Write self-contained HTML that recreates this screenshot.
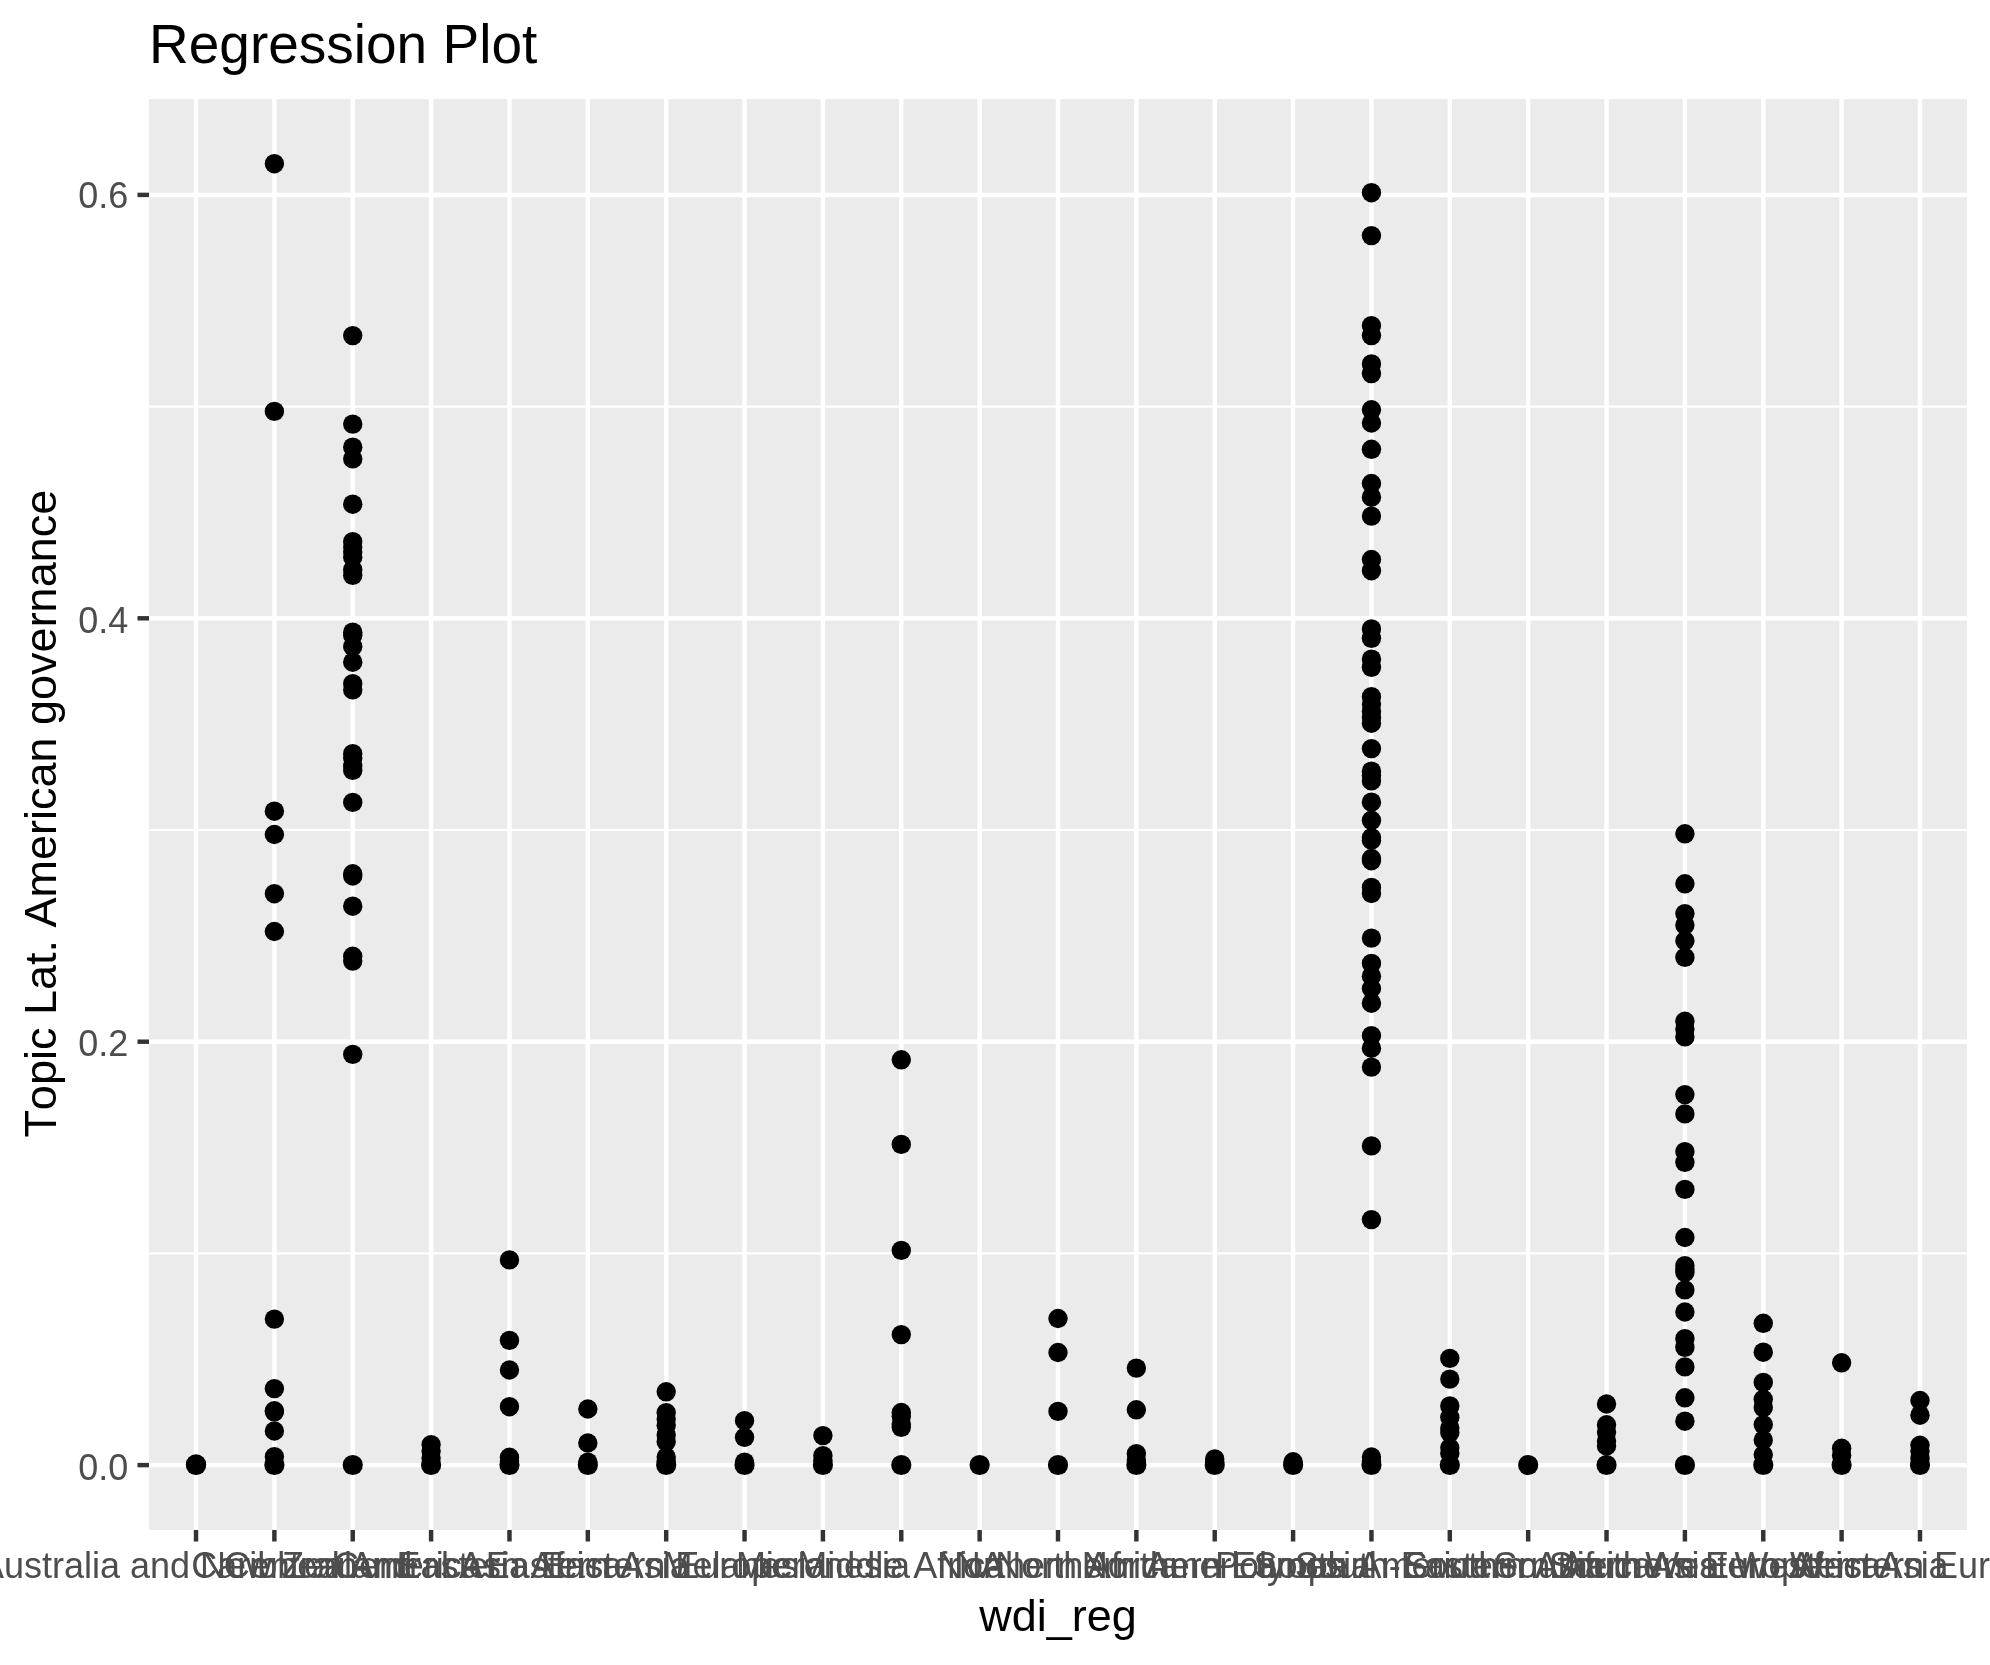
<!DOCTYPE html>
<html><head><meta charset="utf-8"><title>Regression Plot</title>
<style>
html,body{margin:0;padding:0;background:#fff;overflow:hidden;}
body{width:1990px;height:1665px;}
svg{display:block;will-change:transform;filter:grayscale(1);}
text{font-family:"Liberation Sans",sans-serif;font-kerning:none;}
.xt{font-size:36px;fill:#4D4D4D;text-anchor:middle;}
.yt{font-size:36px;fill:#4D4D4D;text-anchor:end;}
</style></head>
<body>
<svg width="1990" height="1665" viewBox="0 0 1990 1665">
<rect x="0" y="0" width="1990" height="1665" fill="#FFFFFF"/>
<rect x="149.0" y="99.0" width="1818.0" height="1431.0" fill="#EBEBEB"/>
<g stroke="#FFFFFF" stroke-width="2.22">
<line x1="149.0" x2="1967.0" y1="1253.40" y2="1253.40"/>
<line x1="149.0" x2="1967.0" y1="830.00" y2="830.00"/>
<line x1="149.0" x2="1967.0" y1="406.60" y2="406.60"/>
</g>
<g stroke="#FFFFFF" stroke-width="4.45">
<line x1="149.0" x2="1967.0" y1="1465.10" y2="1465.10"/>
<line x1="149.0" x2="1967.0" y1="1041.70" y2="1041.70"/>
<line x1="149.0" x2="1967.0" y1="618.30" y2="618.30"/>
<line x1="149.0" x2="1967.0" y1="194.90" y2="194.90"/>
<line x1="196.02" x2="196.02" y1="99.0" y2="1530.0"/>
<line x1="274.38" x2="274.38" y1="99.0" y2="1530.0"/>
<line x1="352.74" x2="352.74" y1="99.0" y2="1530.0"/>
<line x1="431.10" x2="431.10" y1="99.0" y2="1530.0"/>
<line x1="509.47" x2="509.47" y1="99.0" y2="1530.0"/>
<line x1="587.83" x2="587.83" y1="99.0" y2="1530.0"/>
<line x1="666.19" x2="666.19" y1="99.0" y2="1530.0"/>
<line x1="744.55" x2="744.55" y1="99.0" y2="1530.0"/>
<line x1="822.91" x2="822.91" y1="99.0" y2="1530.0"/>
<line x1="901.28" x2="901.28" y1="99.0" y2="1530.0"/>
<line x1="979.64" x2="979.64" y1="99.0" y2="1530.0"/>
<line x1="1058.00" x2="1058.00" y1="99.0" y2="1530.0"/>
<line x1="1136.36" x2="1136.36" y1="99.0" y2="1530.0"/>
<line x1="1214.72" x2="1214.72" y1="99.0" y2="1530.0"/>
<line x1="1293.09" x2="1293.09" y1="99.0" y2="1530.0"/>
<line x1="1371.45" x2="1371.45" y1="99.0" y2="1530.0"/>
<line x1="1449.81" x2="1449.81" y1="99.0" y2="1530.0"/>
<line x1="1528.17" x2="1528.17" y1="99.0" y2="1530.0"/>
<line x1="1606.53" x2="1606.53" y1="99.0" y2="1530.0"/>
<line x1="1684.90" x2="1684.90" y1="99.0" y2="1530.0"/>
<line x1="1763.26" x2="1763.26" y1="99.0" y2="1530.0"/>
<line x1="1841.62" x2="1841.62" y1="99.0" y2="1530.0"/>
<line x1="1919.98" x2="1919.98" y1="99.0" y2="1530.0"/>
</g>
<g fill="#000000">
<circle cx="196.02" cy="1465" r="10.1"/><circle cx="196.02" cy="1464.3" r="10.1"/>
<circle cx="274.38" cy="163.7" r="9.7"/><circle cx="274.38" cy="411.4" r="9.7"/><circle cx="274.38" cy="811.2" r="9.7"/><circle cx="274.38" cy="834.5" r="9.7"/><circle cx="274.38" cy="893.7" r="9.7"/><circle cx="274.38" cy="931.5" r="9.7"/><circle cx="274.38" cy="1319.1" r="9.7"/><circle cx="274.38" cy="1388.6" r="9.7"/><circle cx="274.38" cy="1410.8" r="9.7"/><circle cx="274.38" cy="1411.8" r="9.7"/><circle cx="274.38" cy="1431.0" r="9.7"/><circle cx="274.38" cy="1456.7" r="9.7"/><circle cx="274.38" cy="1465" r="10.1"/>
<circle cx="352.74" cy="335.6" r="9.7"/><circle cx="352.74" cy="424.1" r="9.7"/><circle cx="352.74" cy="447.2" r="9.7"/><circle cx="352.74" cy="458.9" r="9.7"/><circle cx="352.74" cy="504.2" r="9.7"/><circle cx="352.74" cy="541.7" r="9.7"/><circle cx="352.74" cy="547.0" r="9.7"/><circle cx="352.74" cy="552.0" r="9.7"/><circle cx="352.74" cy="557.2" r="9.7"/><circle cx="352.74" cy="569.7" r="9.7"/><circle cx="352.74" cy="575.4" r="9.7"/><circle cx="352.74" cy="632.2" r="9.7"/><circle cx="352.74" cy="635.4" r="9.7"/><circle cx="352.74" cy="646.7" r="9.7"/><circle cx="352.74" cy="662.2" r="9.7"/><circle cx="352.74" cy="683.7" r="9.7"/><circle cx="352.74" cy="689.9" r="9.7"/><circle cx="352.74" cy="753.7" r="9.7"/><circle cx="352.74" cy="758.0" r="9.7"/><circle cx="352.74" cy="765.8" r="9.7"/><circle cx="352.74" cy="770.4" r="9.7"/><circle cx="352.74" cy="802.4" r="9.7"/><circle cx="352.74" cy="873.8" r="9.7"/><circle cx="352.74" cy="876.0" r="9.7"/><circle cx="352.74" cy="906.2" r="9.7"/><circle cx="352.74" cy="956.3" r="9.7"/><circle cx="352.74" cy="961.1" r="9.7"/><circle cx="352.74" cy="1054.4" r="9.7"/><circle cx="352.74" cy="1465" r="10.1"/>
<circle cx="431.10" cy="1444.6" r="9.7"/><circle cx="431.10" cy="1451.1" r="9.7"/><circle cx="431.10" cy="1458.0" r="9.7"/><circle cx="431.10" cy="1465" r="10.1"/>
<circle cx="509.47" cy="1259.9" r="9.7"/><circle cx="509.47" cy="1340.4" r="9.7"/><circle cx="509.47" cy="1370.0" r="9.7"/><circle cx="509.47" cy="1406.7" r="9.7"/><circle cx="509.47" cy="1457.3" r="9.7"/><circle cx="509.47" cy="1461.0" r="9.7"/><circle cx="509.47" cy="1465" r="10.1"/>
<circle cx="587.83" cy="1409.0" r="9.7"/><circle cx="587.83" cy="1443.0" r="9.7"/><circle cx="587.83" cy="1462.1" r="9.7"/><circle cx="587.83" cy="1465" r="10.1"/>
<circle cx="666.19" cy="1391.8" r="9.7"/><circle cx="666.19" cy="1412.6" r="9.7"/><circle cx="666.19" cy="1419.0" r="9.7"/><circle cx="666.19" cy="1425.2" r="9.7"/><circle cx="666.19" cy="1434.9" r="9.7"/><circle cx="666.19" cy="1441.8" r="9.7"/><circle cx="666.19" cy="1457.0" r="9.7"/><circle cx="666.19" cy="1461.0" r="9.7"/><circle cx="666.19" cy="1465" r="10.1"/>
<circle cx="744.55" cy="1420.7" r="9.7"/><circle cx="744.55" cy="1437.3" r="9.7"/><circle cx="744.55" cy="1462.1" r="9.7"/><circle cx="744.55" cy="1465" r="10.1"/>
<circle cx="822.91" cy="1435.6" r="9.7"/><circle cx="822.91" cy="1455.7" r="9.7"/><circle cx="822.91" cy="1460.2" r="9.7"/><circle cx="822.91" cy="1465" r="10.1"/>
<circle cx="901.28" cy="1059.8" r="9.7"/><circle cx="901.28" cy="1144.4" r="9.7"/><circle cx="901.28" cy="1250.4" r="9.7"/><circle cx="901.28" cy="1334.6" r="9.7"/><circle cx="901.28" cy="1412.5" r="9.7"/><circle cx="901.28" cy="1416.3" r="9.7"/><circle cx="901.28" cy="1424.0" r="9.7"/><circle cx="901.28" cy="1427.3" r="9.7"/><circle cx="901.28" cy="1465" r="10.1"/>
<circle cx="979.64" cy="1465" r="10.1"/>
<circle cx="1058.00" cy="1318.5" r="9.7"/><circle cx="1058.00" cy="1352.5" r="9.7"/><circle cx="1058.00" cy="1411.4" r="9.7"/><circle cx="1058.00" cy="1465" r="10.1"/>
<circle cx="1136.36" cy="1368.1" r="9.7"/><circle cx="1136.36" cy="1409.8" r="9.7"/><circle cx="1136.36" cy="1453.7" r="9.7"/><circle cx="1136.36" cy="1460.0" r="9.7"/><circle cx="1136.36" cy="1465" r="10.1"/>
<circle cx="1214.72" cy="1458.9" r="9.7"/><circle cx="1214.72" cy="1462.0" r="9.7"/><circle cx="1214.72" cy="1465" r="10.1"/>
<circle cx="1293.09" cy="1461.8" r="9.7"/><circle cx="1293.09" cy="1465" r="10.1"/>
<circle cx="1371.45" cy="192.7" r="9.7"/><circle cx="1371.45" cy="235.6" r="9.7"/><circle cx="1371.45" cy="325.7" r="9.7"/><circle cx="1371.45" cy="335.6" r="9.7"/><circle cx="1371.45" cy="363.9" r="9.7"/><circle cx="1371.45" cy="373.6" r="9.7"/><circle cx="1371.45" cy="409.8" r="9.7"/><circle cx="1371.45" cy="423.0" r="9.7"/><circle cx="1371.45" cy="449.3" r="9.7"/><circle cx="1371.45" cy="483.5" r="9.7"/><circle cx="1371.45" cy="497.2" r="9.7"/><circle cx="1371.45" cy="516.1" r="9.7"/><circle cx="1371.45" cy="559.5" r="9.7"/><circle cx="1371.45" cy="570.7" r="9.7"/><circle cx="1371.45" cy="628.9" r="9.7"/><circle cx="1371.45" cy="638.3" r="9.7"/><circle cx="1371.45" cy="659.2" r="9.7"/><circle cx="1371.45" cy="667.3" r="9.7"/><circle cx="1371.45" cy="696.7" r="9.7"/><circle cx="1371.45" cy="704.0" r="9.7"/><circle cx="1371.45" cy="711.5" r="9.7"/><circle cx="1371.45" cy="717.5" r="9.7"/><circle cx="1371.45" cy="723.2" r="9.7"/><circle cx="1371.45" cy="748.6" r="9.7"/><circle cx="1371.45" cy="771.2" r="9.7"/><circle cx="1371.45" cy="775.5" r="9.7"/><circle cx="1371.45" cy="780.9" r="9.7"/><circle cx="1371.45" cy="802.2" r="9.7"/><circle cx="1371.45" cy="820.3" r="9.7"/><circle cx="1371.45" cy="837.6" r="9.7"/><circle cx="1371.45" cy="840.2" r="9.7"/><circle cx="1371.45" cy="858.5" r="9.7"/><circle cx="1371.45" cy="860.7" r="9.7"/><circle cx="1371.45" cy="887.4" r="9.7"/><circle cx="1371.45" cy="893.5" r="9.7"/><circle cx="1371.45" cy="938.1" r="9.7"/><circle cx="1371.45" cy="963.4" r="9.7"/><circle cx="1371.45" cy="976.2" r="9.7"/><circle cx="1371.45" cy="988.5" r="9.7"/><circle cx="1371.45" cy="1003.2" r="9.7"/><circle cx="1371.45" cy="1035.7" r="9.7"/><circle cx="1371.45" cy="1048.2" r="9.7"/><circle cx="1371.45" cy="1067.1" r="9.7"/><circle cx="1371.45" cy="1145.9" r="9.7"/><circle cx="1371.45" cy="1219.6" r="9.7"/><circle cx="1371.45" cy="1457.0" r="9.7"/><circle cx="1371.45" cy="1461.0" r="9.7"/><circle cx="1371.45" cy="1465" r="10.1"/>
<circle cx="1449.81" cy="1358.4" r="9.7"/><circle cx="1449.81" cy="1379.1" r="9.7"/><circle cx="1449.81" cy="1405.9" r="9.7"/><circle cx="1449.81" cy="1417.3" r="9.7"/><circle cx="1449.81" cy="1428.0" r="9.7"/><circle cx="1449.81" cy="1432.7" r="9.7"/><circle cx="1449.81" cy="1447.8" r="9.7"/><circle cx="1449.81" cy="1453.2" r="9.7"/><circle cx="1449.81" cy="1465" r="10.1"/>
<circle cx="1528.17" cy="1465" r="10.1"/>
<circle cx="1606.53" cy="1404.0" r="9.7"/><circle cx="1606.53" cy="1424.8" r="9.7"/><circle cx="1606.53" cy="1432.1" r="9.7"/><circle cx="1606.53" cy="1441.0" r="9.7"/><circle cx="1606.53" cy="1446.0" r="9.7"/><circle cx="1606.53" cy="1465" r="10.1"/>
<circle cx="1684.90" cy="833.8" r="9.7"/><circle cx="1684.90" cy="883.8" r="9.7"/><circle cx="1684.90" cy="913.6" r="9.7"/><circle cx="1684.90" cy="925.1" r="9.7"/><circle cx="1684.90" cy="940.8" r="9.7"/><circle cx="1684.90" cy="957.4" r="9.7"/><circle cx="1684.90" cy="1021.3" r="9.7"/><circle cx="1684.90" cy="1029.1" r="9.7"/><circle cx="1684.90" cy="1036.9" r="9.7"/><circle cx="1684.90" cy="1094.6" r="9.7"/><circle cx="1684.90" cy="1113.9" r="9.7"/><circle cx="1684.90" cy="1151.7" r="9.7"/><circle cx="1684.90" cy="1162.3" r="9.7"/><circle cx="1684.90" cy="1189.4" r="9.7"/><circle cx="1684.90" cy="1237.5" r="9.7"/><circle cx="1684.90" cy="1265.6" r="9.7"/><circle cx="1684.90" cy="1269.0" r="9.7"/><circle cx="1684.90" cy="1272.4" r="9.7"/><circle cx="1684.90" cy="1289.9" r="9.7"/><circle cx="1684.90" cy="1312.0" r="9.7"/><circle cx="1684.90" cy="1338.7" r="9.7"/><circle cx="1684.90" cy="1347.4" r="9.7"/><circle cx="1684.90" cy="1366.9" r="9.7"/><circle cx="1684.90" cy="1397.8" r="9.7"/><circle cx="1684.90" cy="1421.2" r="9.7"/><circle cx="1684.90" cy="1465" r="10.1"/>
<circle cx="1763.26" cy="1323.3" r="9.7"/><circle cx="1763.26" cy="1352.2" r="9.7"/><circle cx="1763.26" cy="1382.4" r="9.7"/><circle cx="1763.26" cy="1399.3" r="9.7"/><circle cx="1763.26" cy="1407.7" r="9.7"/><circle cx="1763.26" cy="1424.6" r="9.7"/><circle cx="1763.26" cy="1440.0" r="9.7"/><circle cx="1763.26" cy="1454.8" r="9.7"/><circle cx="1763.26" cy="1465" r="10.1"/>
<circle cx="1841.62" cy="1362.8" r="9.7"/><circle cx="1841.62" cy="1448.3" r="9.7"/><circle cx="1841.62" cy="1455.5" r="9.7"/><circle cx="1841.62" cy="1465" r="10.1"/>
<circle cx="1919.98" cy="1400.5" r="9.7"/><circle cx="1919.98" cy="1415.2" r="9.7"/><circle cx="1919.98" cy="1445.3" r="9.7"/><circle cx="1919.98" cy="1451.0" r="9.7"/><circle cx="1919.98" cy="1458.4" r="9.7"/><circle cx="1919.98" cy="1465" r="10.1"/>
</g>
<g stroke="#333333" stroke-width="4.45">
<line x1="137.5" x2="149.0" y1="1465.10" y2="1465.10"/>
<line x1="137.5" x2="149.0" y1="1041.70" y2="1041.70"/>
<line x1="137.5" x2="149.0" y1="618.30" y2="618.30"/>
<line x1="137.5" x2="149.0" y1="194.90" y2="194.90"/>
<line x1="196.02" x2="196.02" y1="1530.0" y2="1541.5"/>
<line x1="274.38" x2="274.38" y1="1530.0" y2="1541.5"/>
<line x1="352.74" x2="352.74" y1="1530.0" y2="1541.5"/>
<line x1="431.10" x2="431.10" y1="1530.0" y2="1541.5"/>
<line x1="509.47" x2="509.47" y1="1530.0" y2="1541.5"/>
<line x1="587.83" x2="587.83" y1="1530.0" y2="1541.5"/>
<line x1="666.19" x2="666.19" y1="1530.0" y2="1541.5"/>
<line x1="744.55" x2="744.55" y1="1530.0" y2="1541.5"/>
<line x1="822.91" x2="822.91" y1="1530.0" y2="1541.5"/>
<line x1="901.28" x2="901.28" y1="1530.0" y2="1541.5"/>
<line x1="979.64" x2="979.64" y1="1530.0" y2="1541.5"/>
<line x1="1058.00" x2="1058.00" y1="1530.0" y2="1541.5"/>
<line x1="1136.36" x2="1136.36" y1="1530.0" y2="1541.5"/>
<line x1="1214.72" x2="1214.72" y1="1530.0" y2="1541.5"/>
<line x1="1293.09" x2="1293.09" y1="1530.0" y2="1541.5"/>
<line x1="1371.45" x2="1371.45" y1="1530.0" y2="1541.5"/>
<line x1="1449.81" x2="1449.81" y1="1530.0" y2="1541.5"/>
<line x1="1528.17" x2="1528.17" y1="1530.0" y2="1541.5"/>
<line x1="1606.53" x2="1606.53" y1="1530.0" y2="1541.5"/>
<line x1="1684.90" x2="1684.90" y1="1530.0" y2="1541.5"/>
<line x1="1763.26" x2="1763.26" y1="1530.0" y2="1541.5"/>
<line x1="1841.62" x2="1841.62" y1="1530.0" y2="1541.5"/>
<line x1="1919.98" x2="1919.98" y1="1530.0" y2="1541.5"/>
</g>
<text class="yt" x="128.4" y="1479.5">0.0</text>
<text class="yt" x="128.4" y="1056.0">0.2</text>
<text class="yt" x="128.4" y="632.5">0.4</text>
<text class="yt" x="128.4" y="208.4">0.6</text>
<text class="xt" x="196.02" y="1577.5">Australia and New Zealand</text>
<text class="xt" x="274.38" y="1577.5">Caribbean</text>
<text class="xt" x="352.74" y="1577.5">Central America</text>
<text class="xt" x="431.10" y="1577.5">Central Asia</text>
<text class="xt" x="509.47" y="1577.5">Eastern Africa</text>
<text class="xt" x="587.83" y="1577.5">Eastern Asia</text>
<text class="xt" x="666.19" y="1577.5">Eastern Europe</text>
<text class="xt" x="744.55" y="1577.5">Melanesia</text>
<text class="xt" x="822.91" y="1577.5">Micronesia</text>
<text class="xt" x="901.28" y="1577.5">Middle Africa</text>
<text class="xt" x="979.64" y="1577.5">NA</text>
<text class="xt" x="1058.00" y="1577.5">Northern Africa</text>
<text class="xt" x="1136.36" y="1577.5">Northern America</text>
<text class="xt" x="1214.72" y="1577.5">Northern Europe</text>
<text class="xt" x="1293.09" y="1577.5">Polynesia</text>
<text class="xt" x="1371.45" y="1577.5">South America</text>
<text class="xt" x="1449.81" y="1577.5">South-Eastern Asia</text>
<text class="xt" x="1528.17" y="1577.5">Southern Africa</text>
<text class="xt" x="1606.53" y="1577.5">Southern Asia</text>
<text class="xt" x="1684.90" y="1577.5">Southern Europe</text>
<text class="xt" x="1763.26" y="1577.5">Western Africa</text>
<text class="xt" x="1841.62" y="1577.5">Western Asia</text>
<text class="xt" x="1919.98" y="1577.5">Western Europe</text>
<text x="149" y="63" font-size="55px" fill="#000000">Regression Plot</text>
<text x="1058.0" y="1630.9" font-size="45px" fill="#000000" text-anchor="middle">wdi_reg</text>
<text transform="translate(56.2,813.7) rotate(-90)" font-size="45px" fill="#000000" text-anchor="middle">Topic Lat. American governance</text>
</svg>
</body></html>
